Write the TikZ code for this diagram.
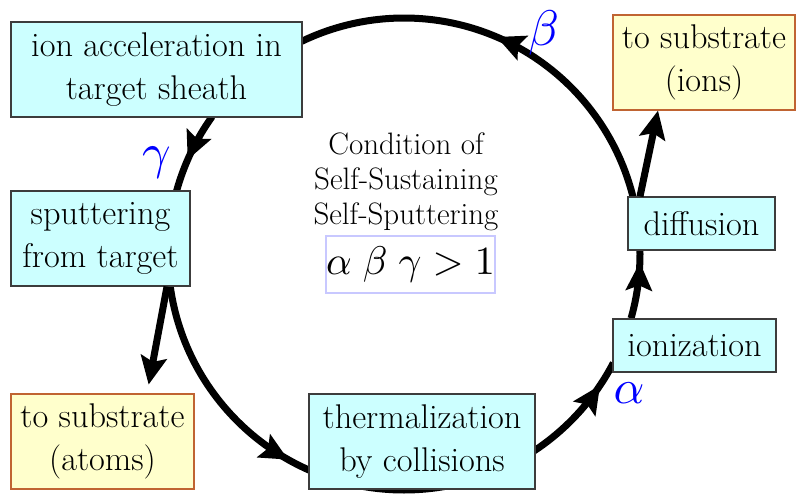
\documentclass[tikz,border=0pt]{standalone}
\usetikzlibrary{arrows.meta,decorations.markings,calc,backgrounds}
\definecolor{boxcyan}{RGB}{204,255,255}
\definecolor{boxyellow}{RGB}{255,255,204}
\definecolor{cyanedge}{RGB}{60,60,60}
\definecolor{yellowedge}{RGB}{192,100,50}
\definecolor{formulaedge}{RGB}{200,200,255}
\newcommand{\bigmath}[2]{\scalebox{#1}{\normalsize$#2$}}
\begin{document}
\begin{tikzpicture}[x=1pt,y=-1pt,
  stage/.style={draw=cyanedge, fill=boxcyan, line width=1.2pt, align=center, inner sep=0pt,
    font=\fontsize{34.3}{43}\selectfont},
  outbox/.style={stage, draw=yellowedge, fill=boxyellow},
  greek/.style={text=blue, inner sep=0pt},
  cyc/.style={line width=7pt, postaction={decorate},
    decoration={markings, mark=at position #1 with {\arrow{Stealth[length=28pt,width=26pt,inset=5pt]}}}},
  sidearrow/.style={line width=7pt, -{Stealth[length=28pt,width=26pt,inset=5pt]}}
]
\useasboundingbox (0,0) rectangle (796,495);

% boxes
\node[stage, minimum width=291pt, minimum height=95pt] (acc) at (156.5,69.5) {ion acceleration in\\target sheath};
\node[stage, minimum width=179pt, minimum height=95pt] (sput) at (100.5,238.5) {sputtering\\from target};
\node[outbox, minimum width=183pt, minimum height=95pt] (atoms) at (102.5,441.5) {to substrate\\(atoms)};
\node[stage, minimum width=226pt, minimum height=95pt] (therm) at (422,441.5) {thermalization\\by collisions};
\node[stage, minimum width=163pt, minimum height=53pt] (ioniz) at (694.5,345.5) {ionization};
\node[stage, minimum width=147pt, minimum height=53pt] (diff) at (701.5,223.5) {diffusion};
\node[outbox, minimum width=182pt, minimum height=95pt] (ions) at (704,62.5) {to substrate\\(ions)};

% centre text
\node[align=center, inner sep=0pt, font=\fontsize{31}{35}\selectfont] (cond) at (406,182) {Condition of\\Self-Sustaining\\Self-Sputtering};
\node[draw=formulaedge, line width=2pt, fill=white, minimum width=165pt, minimum height=57pt, inner sep=0pt] (form) at (410.5,264.5) {\bigmath{4.0}{\alpha\;\beta\;\gamma > 1}};

% greek labels
\node[greek] (lg) at (157,163) {\bigmath{5}{\gamma}};
\node[greek] (lb) at (544,33) {\bigmath{5}{\beta}};
\node[greek] (la) at (629,393) {\bigmath{4.8}{\alpha}};

% cycle on the circle
\coordinate (C) at (404,254);
\coordinate (p1) at ($(C)+(215.6:236)$);
\coordinate (p2) at ($(C)+(172.3:236)$);
\coordinate (p3) at ($(C)+(90:236)$);
\coordinate (p4) at ($(C)+(15.8:236)$);
\coordinate (p5) at ($(C)+(-14:236)$);
\begin{scope}[on background layer]
\draw[cyc=0.60] (p1) arc[start angle=215.6, end angle=195.5, radius=236];
\draw[cyc=0.643] (p2) arc[start angle=172.3, end angle=90, radius=236];
\draw[cyc=0.899] (p3) arc[start angle=90, end angle=27.5, radius=236];
\draw[cyc=0.82] (p4) arc[start angle=15.8, end angle=-1, radius=236];
\draw[cyc=0.52] (p5) arc[start angle=-14, end angle=-115.7, radius=236];
\end{scope}

% side arrows
\draw[sidearrow, shorten >=9pt] ([xshift=66.5pt]sput.south) -- ([xshift=44.5pt]atoms.north);
\draw[sidearrow] ([xshift=-61.5pt]diff.north) -- ([xshift=-46pt]ions.south);
\end{tikzpicture}
\end{document}
